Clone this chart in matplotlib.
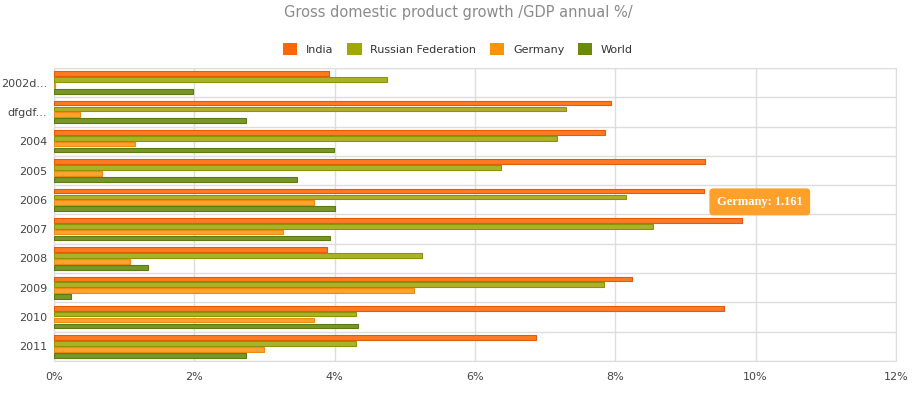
import numpy as np
import matplotlib.pyplot as plt
from matplotlib.patches import Patch

years = ['2002d...', 'dfgdf...', '2004', '2005', '2006', '2007', '2008', '2009', '2010', '2011']
india = [3.92, 7.94, 7.85, 9.28, 9.26, 9.80, 3.89, 8.24, 9.55, 6.87]
russia = [4.75, 7.30, 7.17, 6.37, 8.15, 8.54, 5.25, 7.84, 4.30, 4.30]
germany = [0.01, 0.37, 1.161, 0.68, 3.71, 3.26, 1.08, 5.13, 3.70, 2.99]
world = [1.98, 2.74, 3.99, 3.46, 4.00, 3.93, 1.34, 0.24, 4.34, 2.73]

series = [
    ('India', india, '#FF7A22', '#E85A00', '#FF6600'),
    ('Russian Federation', russia, '#A9B22A', '#8A9600', '#A0A800'),
    ('Germany', germany, '#FFA232', '#F08A10', '#FF9200'),
    ('World', world, '#78962A', '#5C7A10', '#6A8A00'),
]

fig = plt.figure(figsize=(9.16, 3.95), dpi=100)
ax = fig.add_axes([0.059, 0.086, 0.919, 0.742])

y = np.arange(len(years))
offsets = [-0.3, -0.1, 0.1, 0.3]
for (name, vals, fc, ec, _), off in zip(series, offsets):
    ax.barh(y + off, vals, height=0.16, color=fc, edgecolor=ec, linewidth=0.8, zorder=3)

ax.set_xlim(0, 12)
ax.set_ylim(len(years) - 0.5, -0.5)
ax.set_xticks(np.arange(0, 13, 2))
ax.set_xticklabels([f'{v}%' for v in range(0, 13, 2)])
ax.set_yticks(y)
ax.set_yticklabels(years)
ax.set_yticks(np.arange(-0.5, len(years), 1), minor=True)
ax.tick_params(axis='both', which='both', length=0, labelsize=8, colors='#444444')
ax.tick_params(axis='x', pad=8)
ax.tick_params(axis='y', pad=5)
ax.grid(axis='x', which='major', color='#dddddd', linewidth=1, zorder=0)
ax.grid(axis='y', which='minor', color='#dddddd', linewidth=1, zorder=0)
for s in ax.spines.values():
    s.set_color('#dddddd')

fig.text(0.5, 0.968, 'Gross domestic product growth /GDP annual %/', ha='center', va='center',
         fontsize=10.5, color='#8a8a8a')

handles = [Patch(facecolor=c, edgecolor='none') for _, _, _, _, c in series]
fig.legend(handles, [s[0] for s in series], loc='center', bbox_to_anchor=(0.5, 0.876), ncol=4,
           frameon=False, fontsize=8, handlelength=1.3, handleheight=1.3, columnspacing=1.2,
           handletextpad=0.8, labelcolor='#333333')

ax.text(10.06, 4.07, 'Germany: 1.161', ha='center', va='center', fontsize=9, color='white',
        family='Liberation Serif', weight='bold', zorder=5,
        bbox=dict(boxstyle='round,pad=0.6,rounding_size=0.3', facecolor='#FFA02A', edgecolor='none'))

fig.savefig('out.png', dpi=100)
